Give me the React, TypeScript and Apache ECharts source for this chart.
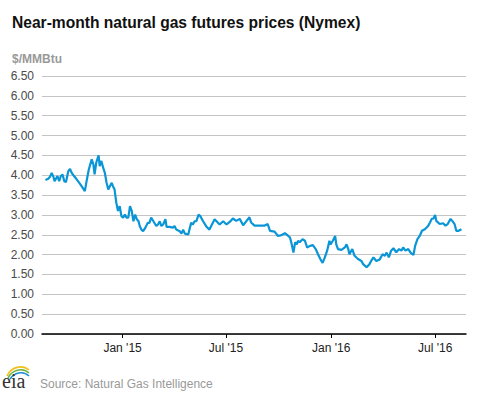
import React, { useEffect, useRef } from "react";
import * as echarts from "echarts";

const dates: string[] = [
  "2014-08-19","2014-08-24","2014-08-27","2014-08-30","2014-09-02","2014-09-04","2014-09-09","2014-09-12",
  "2014-09-15","2014-09-18","2014-09-21","2014-09-24","2014-09-28","2014-10-01","2014-10-04","2014-10-08",
  "2014-10-12","2014-10-15","2014-10-21","2014-10-27","2014-10-30","2014-11-03","2014-11-08","2014-11-11",
  "2014-11-13","2014-11-16","2014-11-20","2014-11-22","2014-11-25","2014-11-28","2014-12-01","2014-12-04",
  "2014-12-07","2014-12-10","2014-12-13","2014-12-15","2014-12-18","2014-12-21","2014-12-24","2014-12-27",
  "2014-12-30","2015-01-02","2015-01-05","2015-01-08","2015-01-11","2015-01-14","2015-01-17","2015-01-20",
  "2015-01-23","2015-01-26","2015-01-29","2015-01-31","2015-02-03","2015-02-06","2015-02-10","2015-02-14",
  "2015-02-17","2015-02-20","2015-02-24","2015-03-01","2015-03-04","2015-03-07","2015-03-10","2015-03-13",
  "2015-03-17","2015-03-19","2015-03-24","2015-03-30","2015-04-02","2015-04-05","2015-04-11","2015-04-14",
  "2015-04-17","2015-04-20","2015-04-26","2015-04-28","2015-05-01","2015-05-04","2015-05-07","2015-05-10",
  "2015-05-14","2015-05-17","2015-05-22","2015-05-28","2015-06-02","2015-06-08","2015-06-11","2015-06-17",
  "2015-06-20","2015-06-26","2015-07-02","2015-07-08","2015-07-13","2015-07-19","2015-07-25","2015-07-31",
  "2015-08-06","2015-08-11","2015-08-14","2015-08-20","2015-08-26","2015-09-01","2015-09-06","2015-09-12",
  "2015-09-16","2015-09-24","2015-09-30","2015-10-06","2015-10-12","2015-10-18","2015-10-21","2015-10-24",
  "2015-10-27","2015-10-30","2015-11-02","2015-11-04","2015-11-07","2015-11-12","2015-11-16","2015-11-20",
  "2015-11-25","2015-11-30","2015-12-05","2015-12-09","2015-12-13","2015-12-17","2015-12-21","2015-12-25",
  "2015-12-29","2015-12-31","2016-01-04","2016-01-08","2016-01-10","2016-01-13","2016-01-19","2016-01-25",
  "2016-01-28","2016-01-31","2016-02-02","2016-02-07","2016-02-11","2016-02-17","2016-02-23","2016-02-26",
  "2016-03-03","2016-03-08","2016-03-11","2016-03-15","2016-03-20","2016-03-26","2016-03-31","2016-04-04",
  "2016-04-07","2016-04-11","2016-04-15","2016-04-19","2016-04-24","2016-04-29","2016-05-03","2016-05-06",
  "2016-05-10","2016-05-15","2016-05-19","2016-05-24","2016-05-27","2016-05-31","2016-06-04","2016-06-08",
  "2016-06-13","2016-06-19","2016-06-22","2016-06-25","2016-06-28","2016-07-01","2016-07-03","2016-07-09",
  "2016-07-15","2016-07-19","2016-07-23","2016-07-28","2016-07-31","2016-08-04","2016-08-07","2016-08-11",
  "2016-08-16"
];

const prices: number[] = [
  3.88,3.91,3.96,4.06,3.96,3.85,3.98,3.85,
  3.98,4.02,3.85,3.83,4.10,4.16,4.06,3.98,
  3.91,3.85,3.73,3.60,3.85,4.15,4.40,4.27,
  4.02,4.32,4.50,4.23,4.36,4.19,4.06,3.81,
  3.64,3.73,3.81,3.73,3.64,3.31,3.10,3.22,
  2.97,2.93,3.01,2.93,2.93,3.22,3.10,2.84,
  3.01,2.89,2.84,2.72,2.63,2.59,2.68,2.80,
  2.80,2.93,2.84,2.72,2.76,2.84,2.72,2.76,
  2.89,2.70,2.70,2.68,2.72,2.63,2.59,2.53,
  2.63,2.53,2.51,2.63,2.80,2.76,2.84,2.84,
  3.01,2.97,2.84,2.70,2.63,2.80,2.89,2.80,
  2.76,2.84,2.76,2.83,2.91,2.85,2.90,2.74,
  2.85,2.94,2.81,2.73,2.73,2.73,2.73,2.77,
  2.60,2.58,2.47,2.49,2.54,2.47,2.43,2.26,
  2.05,2.31,2.26,2.35,2.31,2.39,2.35,2.18,
  2.22,2.24,2.14,2.01,1.89,1.79,1.93,2.10,
  2.35,2.26,2.35,2.47,2.26,2.14,2.12,2.18,
  2.26,2.14,2.01,2.14,1.97,1.89,1.84,1.76,
  1.68,1.76,1.84,1.93,1.84,1.88,2.01,1.97,
  2.05,1.93,2.10,2.16,2.06,2.14,2.10,2.18,
  2.10,2.14,2.05,1.99,2.22,2.39,2.47,2.60,
  2.64,2.73,2.81,2.90,2.91,3.00,2.85,2.77,
  2.79,2.73,2.77,2.90,2.85,2.77,2.60,2.60,
  2.64
];

const tickDates: string[] = ["2015-01-01", "2015-07-01", "2016-01-01", "2016-07-01"];
const tickLabels: string[] = ["Jan '15", "Jul '15", "Jan '16", "Jul '16"];
const axisStart = "2014-08-13";
const axisEnd = "2016-08-24";

const ts = (s: string) => {
  const [y, m, d] = s.split("-").map(Number);
  return Date.UTC(y, m - 1, d);
};

export default function App() {
  const ref = useRef<HTMLDivElement>(null);
  useEffect(() => {
    document.body.style.margin = "0";
    if (!ref.current) return;
    const chart = echarts.init(ref.current, null, { renderer: "svg" });
    const tickTs = tickDates.map(ts);
    const font = "'Liberation Sans', Arial, sans-serif";
    chart.setOption({
      animation: false,
      title: [
        {
          text: "Near-month natural gas futures prices (Nymex)",
          left: 7,
          top: 9,
          textStyle: { fontFamily: font, fontSize: 15.6, fontWeight: "bold", color: "#111" },
        },
        {
          text: "$/MMBtu",
          left: 7,
          top: 48,
          textStyle: { fontFamily: font, fontSize: 12, fontWeight: "bold", color: "#999" },
        },
      ],
      grid: { left: 42, right: 11, top: 76, bottom: 59, containLabel: false },
      xAxis: {
        type: "value",
        min: ts(axisStart),
        max: ts(axisEnd),
        axisLine: { show: true, lineStyle: { color: "#000", width: 1.5 } },
        axisTick: { show: true, customValues: tickTs, length: 4, lineStyle: { color: "#000" } },
        axisLabel: {
          customValues: tickTs,
          formatter: (v: number) => {
            const i = tickTs.indexOf(v);
            return i >= 0 ? tickLabels[i] : "";
          },
          color: "#222",
          fontFamily: font,
          fontSize: 12,
          margin: 8,
        },
        splitLine: { show: false },
      },
      yAxis: {
        type: "value",
        min: 0,
        max: 6.5,
        interval: 0.5,
        axisLine: { show: false },
        axisTick: { show: false },
        axisLabel: {
          formatter: (v: number) => v.toFixed(2),
          color: "#4a4a4a",
          fontFamily: font,
          fontSize: 12,
          margin: 8,
        },
        splitLine: { lineStyle: { color: "#c4c4c4", width: 1 } },
      },
      series: [
        {
          type: "line",
          data: dates.map((d, i) => [ts(d), prices[i]]),
          showSymbol: false,
          symbol: "none",
          lineStyle: { color: "#0a96d6", width: 2.2 },
        },
      ],
      graphic: [
        {
          type: "bezierCurve",
          shape: { x1: 7, y1: 376, cpx1: 11, cpy1: 367, cpx2: 22, cpy2: 364, x2: 29, y2: 370 },
          style: { stroke: "#f2c01e", lineWidth: 1.6, fill: null },
        },
        {
          type: "bezierCurve",
          shape: { x1: 8, y1: 378, cpx1: 12, cpy1: 370, cpx2: 22, cpy2: 367, x2: 29, y2: 373 },
          style: { stroke: "#6cb33f", lineWidth: 1.6, fill: null },
        },
        {
          type: "bezierCurve",
          shape: { x1: 10, y1: 379, cpx1: 14, cpy1: 373, cpx2: 23, cpy2: 370, x2: 29, y2: 376 },
          style: { stroke: "#1e8fd0", lineWidth: 1.6, fill: null },
        },
        {
          type: "text",
          left: 2,
          top: 371,
          style: { text: "eia", font: "20px 'Liberation Serif', 'DejaVu Serif', serif", fill: "#333" },
        },
        {
          type: "text",
          left: 40,
          top: 378,
          style: { text: "Source: Natural Gas Intelligence", font: "12px 'Liberation Sans', Arial, sans-serif", fill: "#999" },
        },
      ],
    });
    return () => chart.dispose();
  }, []);
  return <div ref={ref} style={{ width: 477, height: 393 }} />;
}
